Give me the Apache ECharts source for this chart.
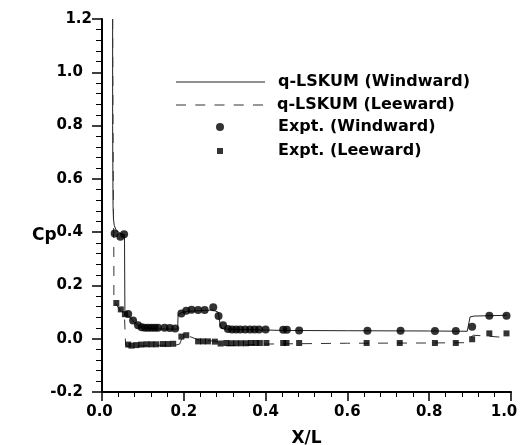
<!DOCTYPE html>
<html>
<head>
<meta charset="utf-8">
<script src="https://cdn.jsdelivr.net/npm/echarts@6/dist/echarts.min.js"></script>
<style>
html,body{margin:0;padding:0;background:#fff;}
#c{width:526px;height:445px;}
</style>
</head>
<body>
<div id="c"></div>
<script>
// ---- Data ----
var xTicks = [0.0, 0.2, 0.4, 0.6, 0.8, 1.0];
var yTicks = [-0.2, 0.0, 0.2, 0.4, 0.6, 0.8, 1.0, 1.2];
var xTitle = 'X/L';
var yTitle = 'Cp';

var seriesNames = ['q-LSKUM (Windward)', 'q-LSKUM (Leeward)', 'Expt. (Windward)', 'Expt. (Leeward)'];

// q-LSKUM windward (solid line)
var windLineX = [0.026, 0.026, 0.027, 0.028, 0.030, 0.034, 0.040, 0.050, 0.055, 0.056, 0.060, 0.065, 0.076, 0.090, 0.100, 0.130, 0.170, 0.185, 0.186, 0.195, 0.210, 0.240, 0.270, 0.284, 0.288, 0.292, 0.300, 0.350, 0.450, 0.600, 0.800, 0.893, 0.900, 0.910, 0.990];
var windLineY = [1.200, 0.800, 0.500, 0.450, 0.425, 0.410, 0.400, 0.392, 0.390, 0.100, 0.092, 0.086, 0.066, 0.048, 0.040, 0.037, 0.036, 0.036, 0.090, 0.098, 0.103, 0.105, 0.108, 0.100, 0.060, 0.040, 0.036, 0.034, 0.031, 0.030, 0.029, 0.028, 0.082, 0.085, 0.088];

// q-LSKUM leeward (dashed line)
var leeLineX = [0.026, 0.027, 0.028, 0.029, 0.029, 0.035, 0.045, 0.055, 0.057, 0.058, 0.065, 0.080, 0.120, 0.180, 0.190, 0.196, 0.215, 0.235, 0.280, 0.290, 0.300, 0.330, 0.400, 0.600, 0.800, 0.885, 0.908, 0.940, 0.990];
var leeLineY = [1.200, 0.800, 0.500, 0.300, 0.140, 0.128, 0.105, 0.085, 0.000, -0.025, -0.030, -0.028, -0.025, -0.024, -0.020, 0.004, 0.008, -0.004, -0.010, -0.020, -0.027, -0.025, -0.020, -0.017, -0.016, -0.015, 0.013, 0.010, 0.004];

// Experiment windward (circles)
var windExpX = [0.031, 0.045, 0.054, 0.064, 0.076, 0.088, 0.097, 0.105, 0.113, 0.121, 0.129, 0.137, 0.153, 0.166, 0.179, 0.194, 0.206, 0.219, 0.235, 0.251, 0.272, 0.285, 0.296, 0.308, 0.318, 0.328, 0.338, 0.350, 0.362, 0.373, 0.384, 0.400, 0.443, 0.452, 0.482, 0.649, 0.730, 0.814, 0.865, 0.905, 0.947, 0.989];
var windExpY = [0.395, 0.383, 0.392, 0.093, 0.068, 0.051, 0.043, 0.041, 0.041, 0.041, 0.041, 0.041, 0.041, 0.040, 0.038, 0.095, 0.105, 0.109, 0.108, 0.108, 0.118, 0.085, 0.051, 0.036, 0.035, 0.035, 0.035, 0.035, 0.035, 0.035, 0.035, 0.035, 0.034, 0.034, 0.031, 0.030, 0.030, 0.029, 0.029, 0.045, 0.086, 0.086];

// Experiment leeward (squares)
var leeExpX = [0.035, 0.046, 0.056, 0.064, 0.072, 0.084, 0.096, 0.109, 0.121, 0.133, 0.149, 0.161, 0.174, 0.194, 0.206, 0.235, 0.247, 0.259, 0.276, 0.290, 0.304, 0.316, 0.328, 0.340, 0.352, 0.364, 0.376, 0.386, 0.402, 0.443, 0.451, 0.482, 0.647, 0.728, 0.814, 0.865, 0.905, 0.947, 0.989];
var leeExpY = [0.134, 0.110, 0.092, -0.022, -0.026, -0.024, -0.022, -0.021, -0.021, -0.021, -0.020, -0.020, -0.019, 0.008, 0.013, -0.010, -0.010, -0.010, -0.011, -0.018, -0.016, -0.017, -0.017, -0.017, -0.017, -0.016, -0.016, -0.016, -0.016, -0.016, -0.016, -0.016, -0.016, -0.016, -0.016, -0.016, -0.002, 0.020, 0.020];

function pairs(xs, ys) { return xs.map(function (x, i) { return [x, ys[i]]; }); }

var FONT = 'DejaVu Sans';
var chart = echarts.init(document.getElementById('c'), null, {renderer: 'canvas'});

var legendText = {fontFamily: FONT, fontWeight: 'bold', fontSize: 16, color: '#000', lineHeight: 16};
function mkLegend(left, top, w, h, name, icon, color, textPad) {
  return {
    show: true, orient: 'vertical', left: left, top: top, padding: 0,
    itemWidth: w, itemHeight: h, itemGap: 0, selectedMode: false,
    data: [{name: name, icon: icon, itemStyle: {color: color, borderWidth: 0}}],
    textStyle: Object.assign({padding: [0, 0, 0, textPad]}, legendText)
  };
}
var dashIcon = 'path://M0,0h10v1h-10zM19.25,0h10v1h-10zM38.5,0h10v1h-10zM57.75,0h10v1h-10zM77,0h10v1h-10z';

var labelFont = {fontFamily: FONT, fontWeight: 'bold', fontSize: 15, color: '#000'};

var option = {
  backgroundColor: '#fff',
  animation: false,
  title: {
    text: yTitle, left: 32, top: 227, padding: 0,
    textStyle: {fontFamily: FONT, fontWeight: 'bold', fontSize: 17, color: '#000', lineHeight: 17}
  },
  grid: {left: 102, right: 15, top: 19, bottom: 53, containLabel: false, outerBoundsMode: 'none'},
  legend: [
    mkLegend(176, 74, 89, 1, seriesNames[0], 'rect', '#222', 8),
    mkLegend(176, 97, 89, 1, seriesNames[1], dashIcon, '#333', 8),
    mkLegend(216, 119, 8, 8, seriesNames[2], 'circle', '#000', 49),
    mkLegend(217, 143, 6, 6, seriesNames[3], 'rect', '#000', 50)
  ],
  xAxis: {
    type: 'value', min: xTicks[0], max: xTicks[xTicks.length - 1], interval: 0.2,
    name: xTitle, nameLocation: 'middle', nameGap: 38,
    nameTextStyle: {fontFamily: FONT, fontWeight: 'bold', fontSize: 17, color: '#000'},
    axisLine: {onZero: false, lineStyle: {color: '#000', width: 2}},
    axisTick: {show: true, inside: false, length: 9, lineStyle: {color: '#000', width: 1.5}},
    minorTick: {show: true, splitNumber: 5, length: 5, lineStyle: {color: '#000', width: 1}},
    splitLine: {show: false},
    axisLabel: Object.assign({
      margin: 13,
      formatter: function (v) {
        var s = v.toFixed(1);
        if (v >= 0.999) return '{e|' + s + '}';
        if (v <= 0.001) return '{s|' + s + '}';
        return s;
      },
      rich: {
        e: Object.assign({padding: [0, 14, 0, 0]}, labelFont),
        s: Object.assign({padding: [0, 5, 0, 0]}, labelFont)
      }
    }, labelFont)
  },
  yAxis: {
    type: 'value', min: yTicks[0], max: yTicks[yTicks.length - 1], interval: 0.2,
    axisLine: {onZero: false, lineStyle: {color: '#000', width: 2}},
    axisTick: {show: true, inside: false, length: 10, lineStyle: {color: '#000', width: 1.5}},
    minorTick: {show: true, splitNumber: 5, length: 6, lineStyle: {color: '#000', width: 1}},
    splitLine: {show: false},
    axisLabel: Object.assign({
      margin: 10,
      formatter: function (v) {
        var s = v.toFixed(1);
        if (v >= 1.199) return s;
        return '{n|' + s + '}';
      },
      rich: {
        n: Object.assign({padding: [0, 9, 0, 0]}, labelFont)
      }
    }, labelFont)
  },
  series: [
    {
      name: seriesNames[0], type: 'line', data: pairs(windLineX, windLineY),
      symbol: 'none', smooth: false, clip: true,
      lineStyle: {color: '#222', width: 1, type: 'solid'}, itemStyle: {color: '#222'}, z: 2
    },
    {
      name: seriesNames[1], type: 'line', data: pairs(leeLineX, leeLineY),
      symbol: 'none', smooth: false, clip: true,
      lineStyle: {color: '#333', width: 1, type: [10, 9]}, itemStyle: {color: '#333'}, z: 2
    },
    {
      name: seriesNames[2], type: 'scatter', data: pairs(windExpX, windExpY),
      symbol: 'circle', symbolSize: 8, itemStyle: {color: '#000'}, z: 3
    },
    {
      name: seriesNames[3], type: 'scatter', data: pairs(leeExpX, leeExpY),
      symbol: 'rect', symbolSize: 6, itemStyle: {color: '#000'}, z: 3
    }
  ]
};
chart.setOption(option);
</script>
</body>
</html>
